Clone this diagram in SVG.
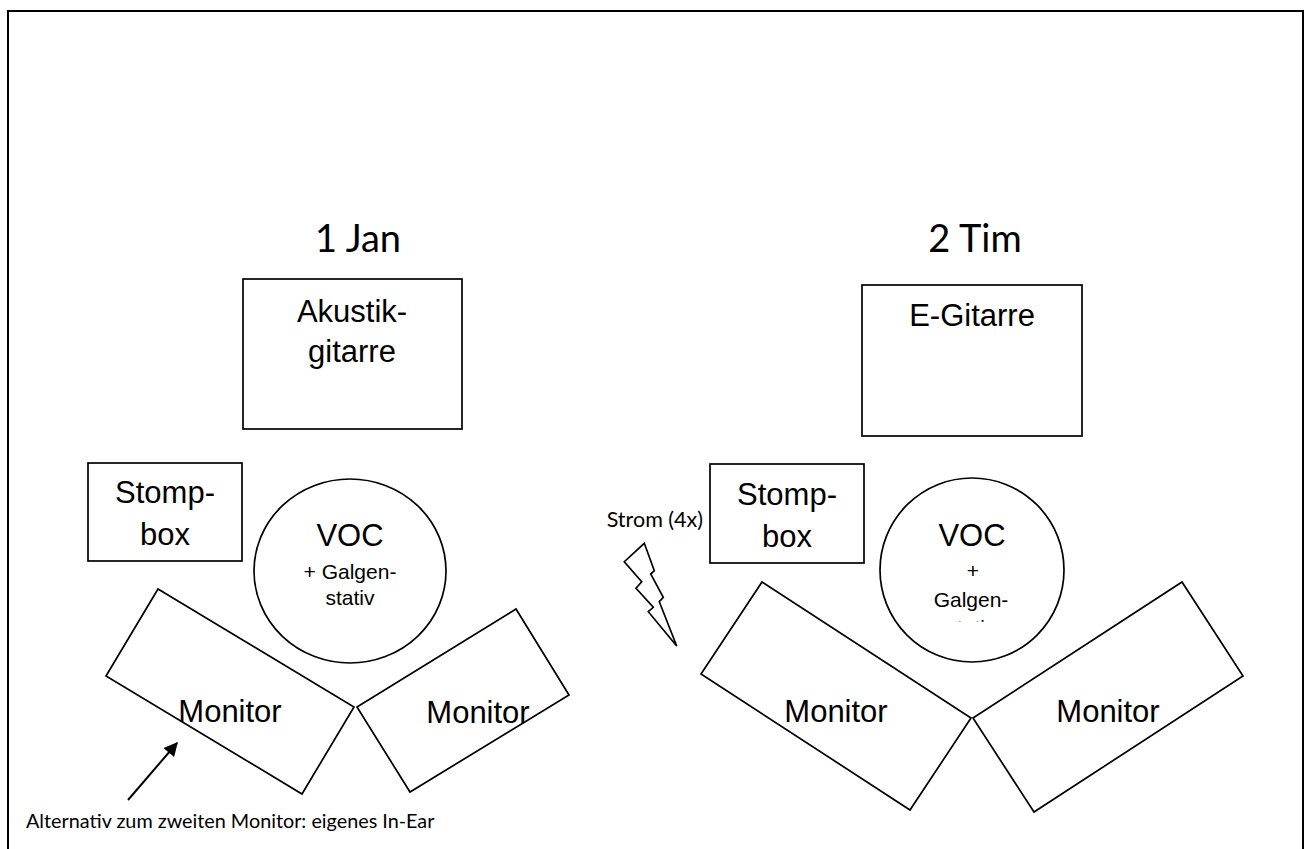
<svg xmlns="http://www.w3.org/2000/svg" width="1304" height="849" viewBox="0 0 1304 849">
  <style>
    .shape { fill: #ffffff; stroke: #000000; stroke-width: 1.7; }
    .arial { font-family: "Liberation Sans", Arial, sans-serif; fill: #000000; text-anchor: middle; }
    .big { font-size: 31px; }
    .small { font-size: 21px; }
    .cal { font-family: Lato, "Open Sans", sans-serif; fill: #000000; }
    .title { font-size: 38px; text-anchor: middle; }
  </style>
  <defs>
    <marker id="arrowhead" viewBox="0 0 10 10" refX="9" refY="5" markerWidth="17" markerHeight="14" markerUnits="userSpaceOnUse" orient="auto">
      <path d="M0,0 L10,5 L0,10 z" fill="#000000"/>
    </marker>
    <clipPath id="clipVoc2">
      <rect x="880" y="470" width="184" height="152"/>
    </clipPath>
    <clipPath id="clipNote">
      <rect x="10" y="800" width="500" height="32"/>
    </clipPath>
  </defs>
  <rect x="0" y="0" width="1304" height="849" fill="#ffffff"/>
  <rect x="8" y="11" width="1295" height="860" fill="none" stroke="#000000" stroke-width="2"/>

  <g id="title-jan">
    <text class="cal title" x="358" y="252">1 Jan</text>
  </g>
  <g id="title-tim">
    <text class="cal title" x="975" y="252">2 Tim</text>
  </g>

  <g id="akustikgitarre">
    <rect class="shape" x="243" y="279" width="219" height="150"/>
    <text class="arial big" x="352" y="322">Akustik-</text>
    <text class="arial big" x="352" y="362">gitarre</text>
  </g>
  <g id="e-gitarre">
    <rect class="shape" x="862" y="285" width="220" height="151"/>
    <text class="arial big" x="972" y="326">E-Gitarre</text>
  </g>

  <g id="stompbox-1">
    <rect class="shape" x="88" y="463" width="154" height="98"/>
    <text class="arial big" x="165" y="503">Stomp-</text>
    <text class="arial big" x="165" y="545">box</text>
  </g>
  <g id="stompbox-2">
    <rect class="shape" x="710" y="464" width="154" height="99"/>
    <text class="arial big" x="787" y="505">Stomp-</text>
    <text class="arial big" x="787" y="547">box</text>
  </g>

  <g id="voc-1">
    <ellipse class="shape" cx="350" cy="571" rx="96" ry="92"/>
    <text class="arial big" x="350" y="546">VOC</text>
    <text class="arial small" x="350" y="579">+ Galgen-</text>
    <text class="arial small" x="350" y="605">stativ</text>
  </g>
  <g id="voc-2">
    <circle class="shape" cx="972" cy="570" r="92"/>
    <text class="arial big" x="972" y="546">VOC</text>
    <g clip-path="url(#clipVoc2)">
      <text class="arial small" x="973" y="578">+</text>
      <text class="arial small" x="971" y="607">Galgen-</text>
      <text class="arial small" x="971" y="635">stativ</text>
    </g>
  </g>

  <g id="monitor-1a">
    <polygon class="shape" points="158,589 354,707 302,794 106,676"/>
    <text class="arial big" x="230" y="722">Monitor</text>
  </g>
  <g id="monitor-1b">
    <polygon class="shape" points="357,707 516,609 569,695 410,792"/>
    <text class="arial big" x="478" y="723">Monitor</text>
  </g>
  <g id="monitor-2a">
    <polygon class="shape" points="762,582 971,718 910,810 701,674"/>
    <text class="arial big" x="836" y="722">Monitor</text>
  </g>
  <g id="monitor-2b">
    <polygon class="shape" points="973,718 1182,582 1243,676 1034,812"/>
    <text class="arial big" x="1108" y="722">Monitor</text>
  </g>

  <g id="strom">
    <text class="cal" x="703" y="527" font-size="21.5" text-anchor="end">Strom (4x)</text>
    <polygon class="shape" points="644.3,543.3 654.3,570.7 650.7,574 663.3,597.3 659.3,601.7 676.7,646 648.3,611.7 653.3,607.3 636,588.3 641.7,581.7 624.3,561.7"/>
  </g>

  <g id="note">
    <text class="cal" x="26" y="828" font-size="19.8" clip-path="url(#clipNote)">Alternativ zum zweiten Monitor: eigenes In-Ear</text>
  </g>

  <g id="connectors">
    <line x1="128" y1="800" x2="177" y2="743" stroke="#000000" stroke-width="2" marker-end="url(#arrowhead)"/>
  </g>
</svg>
